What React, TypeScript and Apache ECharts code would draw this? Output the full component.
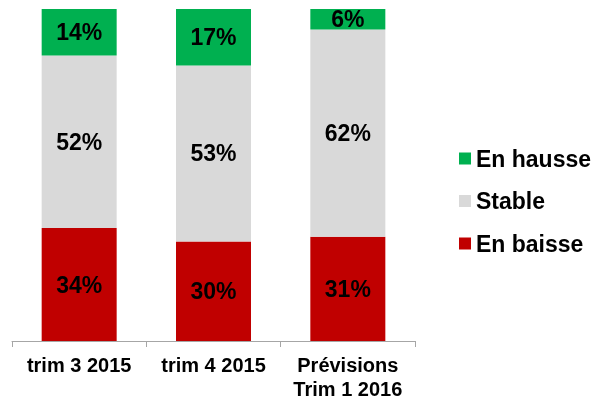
import React, { useEffect, useRef } from "react";
import * as echarts from "echarts";

const categories = ["trim 3 2015", "trim 4 2015", "Prévisions\nTrim 1 2016"];
const enBaisse = [34, 30, 31.4];
const stable = [52, 53, 62.4];
const enHausse = [14, 17, 6.2];

const FONT = "'Liberation Sans', Arial, sans-serif";

export default function App() {
  const ref = useRef<HTMLDivElement>(null);
  useEffect(() => {
    if (!ref.current) return;
    const chart = echarts.init(ref.current, null, { renderer: "svg" });
    const label = {
      show: true,
      position: "inside",
      color: "#000",
      fontWeight: "bold",
      fontSize: 23,
      fontFamily: FONT,
      formatter: (p: any) => Math.round(p.value) + "%",
    };
    const mk = (name: string, data: number[], color: string) => ({
      name,
      type: "bar",
      stack: "total",
      data,
      barWidth: 75,
      itemStyle: { color },
      label,
    });
    chart.setOption({
      animation: false,
      grid: { left: 12, right: 191, top: 9, bottom: 58, containLabel: false },
      legend: {
        orient: "vertical",
        left: 454,
        top: 142,
        itemWidth: 12,
        itemHeight: 12,
        itemGap: 19.5,
        icon: "rect",
        data: ["En hausse", "Stable", "En baisse"],
        textStyle: { fontSize: 23, fontWeight: "bold", color: "#000", fontFamily: FONT },
      },
      xAxis: {
        type: "category",
        data: categories,
        axisLine: { show: true, lineStyle: { color: "#A6A6A6", width: 1 } },
        axisTick: { show: true, length: 6, alignWithLabel: false, lineStyle: { color: "#A6A6A6" } },
        axisLabel: {
          color: "#000",
          fontWeight: "bold",
          fontSize: 20,
          fontFamily: FONT,
          margin: 12,
          lineHeight: 24,
          interval: 0,
        },
      },
      yAxis: {
        type: "value",
        min: 0,
        max: 100,
        show: false,
        splitLine: { show: false },
      },
      series: [
        mk("En baisse", enBaisse, "#C00000"),
        mk("Stable", stable, "#D9D9D9"),
        mk("En hausse", enHausse, "#00B050"),
      ],
    });
    return () => chart.dispose();
  }, []);
  return (
    <div
      ref={ref}
      style={{ position: "fixed", left: 0, top: 0, width: 606, height: 401 }}
    />
  );
}
